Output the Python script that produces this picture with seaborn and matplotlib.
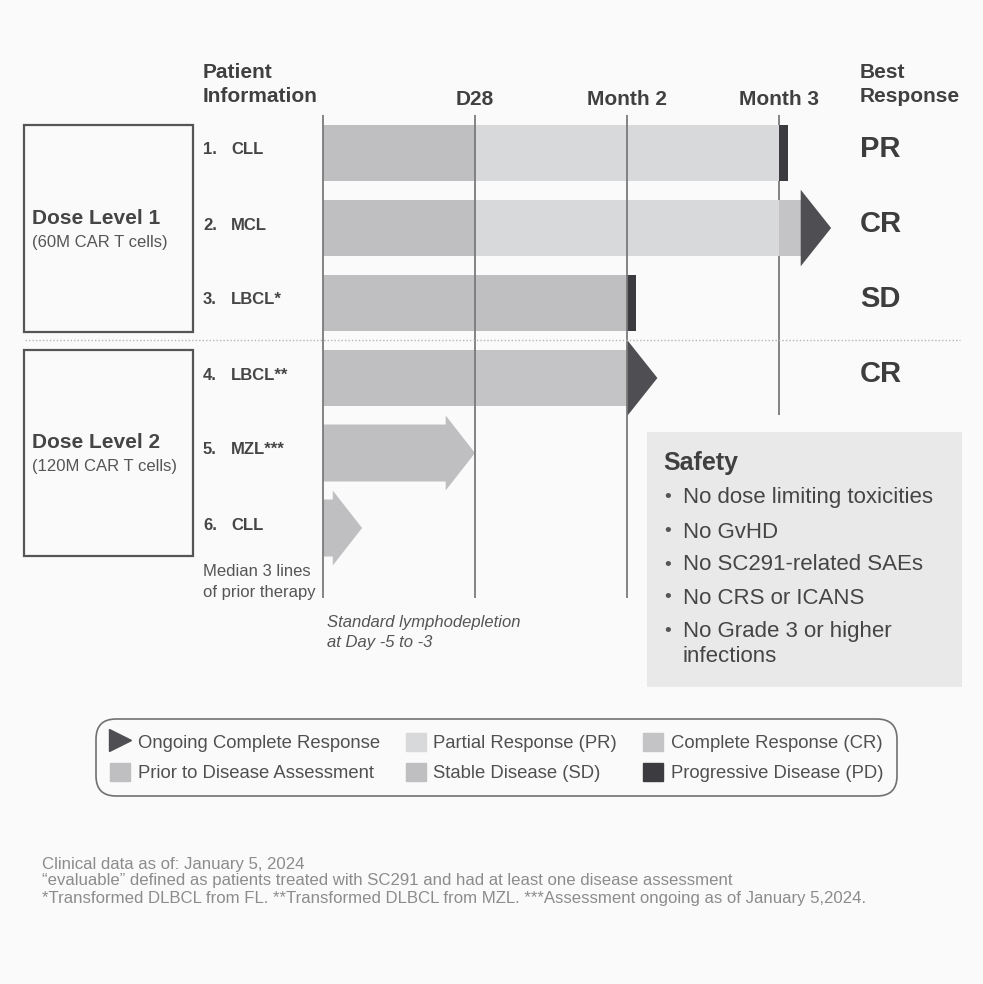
import numpy as np
import pandas as pd
import matplotlib.pyplot as plt
import matplotlib.transforms as mtransforms
import seaborn as sns
from matplotlib.patches import Rectangle, FancyArrow, Patch, Polygon
from matplotlib.lines import Line2D

# ---- data (days since infusion) ----
patient_num = ['1.', '2.', '3.', '4.', '5.', '6.']
patient_dx = ['CLL', 'MCL', 'LBCL*', 'LBCL**', 'MZL***', 'CLL']
best_response = ['PR', 'CR', 'SD', 'CR']

# patients 1-4 (already assessed)
prior_end = [28, 28, 28, 28]
resp_status = ['PR', 'PR', 'SD', 'CR']
resp_end = [84, 84, 56, 56]
last_status = ['PD', 'CR', 'PD', None]
last_end = [85.7, 88, 57.7, None]
ongoing = [False, True, False, True]

# patients 5-6 (prior to first disease assessment)
pending_end = [28, 7.2]

tick_days = [28, 56, 84]
tick_labels = ['D28', 'Month 2', 'Month 3']

safety_items = ['No dose limiting toxicities', 'No GvHD', 'No SC291-related SAEs',
                'No CRS or ICANS', 'No Grade 3 or higher\ninfections']

footnotes = ['Clinical data as of: January 5, 2024',
             '\u201cevaluable\u201d defined as patients treated with SC291 and had at least one disease assessment',
             '*Transformed DLBCL from FL. **Transformed DLBCL from MZL. ***Assessment ongoing as of January 5,2024.']

colors = {'Prior': '#bfbfc1', 'PR': '#d8d9db', 'CR': '#c4c4c6', 'SD': '#bfbfc1',
          'PD': '#3c3c40', 'Ongoing': '#4e4e53'}

# ---- layout helpers (pixel -> figure fraction) ----
W, H = 983, 984
def fx(px):
    return px / W
def fy(py):
    return 1 - py / H

PPD = 152 / 28.0        # pixels per day
ROW0, ROWSTEP = 153, 75  # pixel centre of first row, row spacing

sns.set_theme(style='white')
plt.rcParams['font.family'] = ['Liberation Sans', 'DejaVu Sans']

fig = plt.figure(figsize=(W / 100, H / 100), dpi=100)
fig.patch.set_facecolor('#fafafa')

ax = fig.add_axes([fx(300), fy(598), (970 - 300) / W, (598 - 115) / H])
ax.set_facecolor('none')

# first segment of each assessed bar
sns.barplot(x=prior_end, y=[f'{n} {d}' for n, d in zip(patient_num[:4], patient_dx[:4])],
            orient='h', color=colors['Prior'], saturation=1, width=0.75,
            linewidth=0, ax=ax)

# remaining segments
segs = pd.DataFrame({'row': range(4), 'start': prior_end, 'end': resp_end, 'status': resp_status})
segs2 = pd.DataFrame({'row': range(4), 'start': resp_end, 'end': last_end, 'status': last_status}).dropna()
for df in (segs, segs2):
    for _, r in df.iterrows():
        ax.barh(r['row'], r['end'] - r['start'], left=r['start'], height=0.75,
                color=colors[r['status']], linewidth=0, zorder=2)

# ongoing complete response arrowheads
for i in range(4):
    if ongoing[i]:
        end = last_end[i] if last_end[i] is not None else resp_end[i]
        ax.add_patch(Polygon([(end, i - 0.51), (end + 5.6, i), (end, i + 0.51)],
                             closed=True, color=colors['Ongoing'], lw=0, zorder=3))

# patients not yet assessed
for j, e in enumerate(pending_end):
    row = 4 + j
    ax.add_patch(FancyArrow(0, row, e, 0, width=0.76, head_width=1.0,
                            head_length=min(5.4, e), length_includes_head=True,
                            color=colors['Prior'], lw=0, zorder=2))

# axes scales
ax.set_xlim(-23 / PPD, (970 - 323) / PPD)
ax.set_ylim((598 - ROW0) / ROWSTEP, (115 - ROW0) / ROWSTEP)
ylo, yhi = ax.get_ylim()
ax.vlines([0] + tick_days[:2], yhi, ylo, color='#7a7a7a', lw=1.3, zorder=4)
ax.vlines(tick_days[2], yhi, (415 - ROW0) / ROWSTEP, color='#7a7a7a', lw=1.3, zorder=1)

ax.set_yticks([])
ax.set_xlabel('')
ax.set_ylabel('')
ax.xaxis.tick_top()
ax.set_xticks(tick_days, tick_labels)
ax.tick_params(axis='x', length=0, pad=4.5, labelsize=15, labelcolor='#404040')
for lbl in ax.get_xticklabels():
    lbl.set_fontweight('bold')
for s in ax.spines.values():
    s.set_visible(False)

# patient labels and best response
tr = mtransforms.blended_transform_factory(fig.transFigure, ax.transData)
for i, (n, d) in enumerate(zip(patient_num, patient_dx)):
    ax.text(fx(203), i - 0.04, n, transform=tr, fontsize=12, fontweight='bold',
            color='#454545', va='center', ha='left')
    ax.text(fx(231), i - 0.04, d, transform=tr, fontsize=12, fontweight='bold',
            color='#454545', va='center', ha='left')
for i, br in enumerate(best_response):
    ax.text(fx(860), i - 0.05, br, transform=tr, fontsize=21, fontweight='bold',
            color='#3d3d3d', va='center', ha='left')

# column headers
for txt, y in (('Patient', 72), ('Information', 97)):
    fig.text(fx(203), fy(y), txt, fontsize=15, fontweight='bold', color='#404040', va='center')
for txt, y in (('Best', 72), ('Response', 97)):
    fig.text(fx(860), fy(y), txt, fontsize=15, fontweight='bold', color='#404040', va='center')

# dose level boxes
for top, bot, title, sub in ((125, 332, 'Dose Level 1', '(60M CAR T cells)'),
                             (350, 556, 'Dose Level 2', '(120M CAR T cells)')):
    fig.add_artist(Rectangle((fx(24), fy(bot)), (193 - 24) / W, (bot - top) / H,
                             fill=False, edgecolor='#555555', lw=1.6))
    mid = (top + bot) / 2
    fig.text(fx(32), fy(mid - 10), title, fontsize=15, fontweight='bold', color='#454545', va='center')
    fig.text(fx(32), fy(mid + 14), sub, fontsize=12, color='#555555', va='center')

fig.add_artist(Line2D([fx(25), fx(960)], [fy(340), fy(340)], ls=(0, (1, 1.5)),
                      color='#b5b5b5', lw=1))

fig.text(fx(203), fy(572), 'Median 3 lines', fontsize=12, color='#555555', va='center')
fig.text(fx(203), fy(592), 'of prior therapy', fontsize=12, color='#555555', va='center')
fig.text(fx(327), fy(622), 'Standard lymphodepletion', fontsize=12, style='italic', color='#555555', va='center')
fig.text(fx(327), fy(642), 'at Day -5 to -3', fontsize=12, style='italic', color='#555555', va='center')

# safety panel
fig.add_artist(Rectangle((fx(647), fy(687)), (962 - 647) / W, (687 - 432) / H,
                         facecolor='#e9e9e9', edgecolor='none'))
fig.text(fx(663), fy(463), 'Safety', fontsize=18, fontweight='bold', color='#404040', va='center')
ys = [498, 532, 565, 598, 631]
for y, item in zip(ys, safety_items):
    fig.text(fx(664), fy(y), '\u2022', fontsize=14, color='#555555', va='center')
    for k, ln in enumerate(item.split('\n')):
        fig.text(fx(683), fy(y + 26 * k), ln, fontsize=16, color='#454545', va='center')

# legend
handles = [Line2D([], [], marker='>', ls='none', markersize=16, color=colors['Ongoing']),
           Patch(color=colors['Prior']),
           Patch(color=colors['PR']),
           Patch(color=colors['SD']),
           Patch(color=colors['CR']),
           Patch(color=colors['PD'])]
labels = ['Ongoing Complete Response', 'Prior to Disease Assessment',
          'Partial Response (PR)', 'Stable Disease (SD)',
          'Complete Response (CR)', 'Progressive Disease (PD)']
leg = fig.legend(handles, labels, ncol=3, loc='upper left', bbox_to_anchor=(fx(96), fy(719)),
                 fontsize=13.3, handlelength=1.1, handleheight=1.1, handletextpad=0.4,
                 columnspacing=1.4, labelspacing=0.6, borderpad=0.75, borderaxespad=0,
                 fancybox=True, frameon=True, labelcolor='#505050')
frame = leg.get_frame()
frame.set_edgecolor('#707070')
frame.set_linewidth(1.2)
frame.set_facecolor('#fafafa')
frame.set_alpha(1)
frame.set_boxstyle('round,pad=0,rounding_size=1.1')

# footnotes
for y, t in zip([864, 881, 899], footnotes):
    fig.text(fx(42), fy(y), t, fontsize=12.1, color='#8c8c8c', va='center')

fig.savefig('out.png', dpi=100, facecolor=fig.get_facecolor())
